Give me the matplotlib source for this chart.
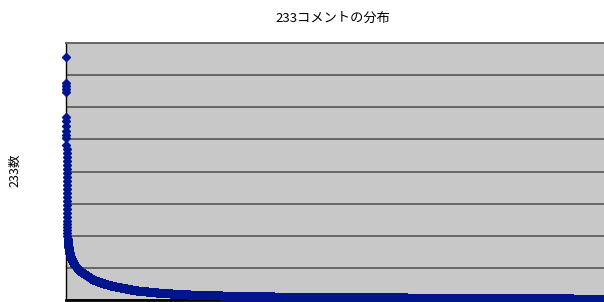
import numpy as np
import matplotlib
matplotlib.use("Agg")
import matplotlib.pyplot as plt

plt.rcParams['font.family'] = ['Noto Sans CJK JP', 'DejaVu Sans']

# comment counts (descending) and how many items share each count
top_values = [243, 217, 214, 211, 208, 183, 179, 174, 169, 165, 162,
              155, 151, 147, 143, 139, 135, 131, 127, 123, 119, 115,
              111, 107, 103, 99, 95, 91, 87, 83, 79, 76, 73, 70, 67, 64]
tail_values = [61, 60, 59, 58, 57, 56, 55, 54, 53, 52, 51, 50, 49,
               48, 47, 46, 45, 44, 43, 42,
               41, 40, 39, 38, 37, 36,
               35, 34, 33, 32, 31, 30,
               29, 28, 27, 26, 25,
               24, 23, 22, 21, 20, 19, 18, 17, 16, 15, 14, 13, 12,
               11, 10, 9, 8, 7, 6, 5, 4, 3, 2, 1]
tail_counts = [2, 2, 3, 3, 3, 3, 3, 3, 3, 3, 3, 4, 4,
               6, 6, 6, 6, 8, 8, 8,
               12, 12, 12, 12, 12, 12,
               20, 20, 20, 20, 20, 20,
               38, 38, 38, 38, 40,
               32, 32, 32, 48, 56, 64, 72, 72, 80, 88, 104, 120, 136,
               120, 144, 240, 240, 336, 432, 768, 1248, 3168, 3984, 768]

title = "233コメントの分布"
ylabel = "233数"

values = np.concatenate([top_values, np.repeat(tail_values, tail_counts)])
rank = np.arange(len(values))

fig = plt.figure(figsize=(6.04, 3.02), dpi=100)
ax = fig.add_axes([66 / 604, 2 / 302, 1 - 66 / 604, 257 / 302])
ax.set_facecolor('#c8c8c8')

ax.plot(rank, values, linestyle='none', marker='D', ms=3.9,
        color='#00148c', mec='#00148c', clip_on=False, zorder=3)

ax.set_xlim(0, len(values))
ax.set_ylim(0, 257)
ax.set_yticks(np.linspace(0, 257, 9))
ax.set_xticks([])
ax.tick_params(left=False, labelleft=False)
ax.grid(axis='y', color='#666666', linewidth=1.4)
ax.set_axisbelow(True)

ax.spines['right'].set_visible(False)
ax.spines['top'].set_color('#666666')
ax.spines['top'].set_linewidth(1.4)
ax.spines['left'].set_color('black')
ax.spines['left'].set_linewidth(1.0)
ax.spines['bottom'].set_color('black')
ax.spines['bottom'].set_linewidth(2.0)

fig.text(333 / 604, 1 - 18 / 302, title, ha='center', va='center', fontsize=9.5)
fig.text(15 / 604, 1 - 170 / 302, ylabel, ha='center', va='center',
         rotation=90, fontsize=9)

fig.savefig('out.png', dpi=100)
